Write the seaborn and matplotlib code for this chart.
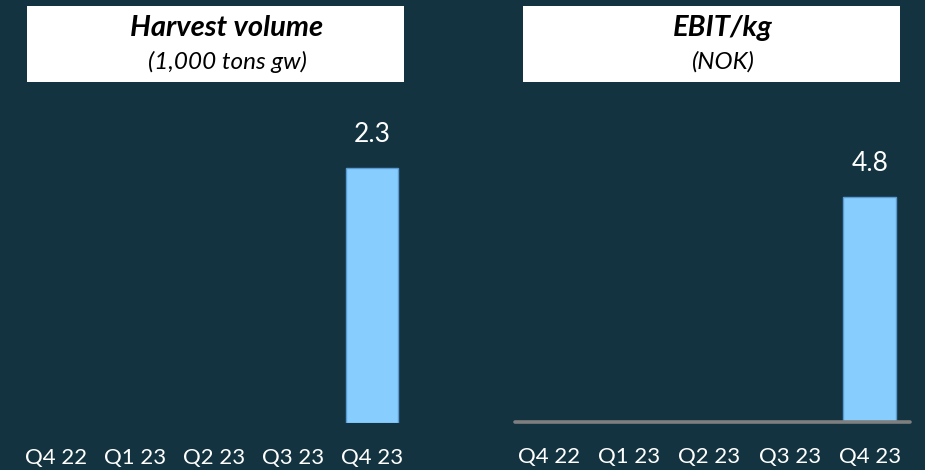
import matplotlib
matplotlib.use("Agg")
import matplotlib.pyplot as plt
import seaborn as sns
import pandas as pd
from matplotlib.patches import Rectangle

quarters = ["Q4 22", "Q1 23", "Q2 23", "Q3 23", "Q4 23"]
harvest_volume = [0, 0, 0, 0, 2.3]
ebit_per_kg = [0, 0, 0, 0, 4.8]

BG = "#12333F"
BAR = "#87CEFF"
EDGE = "#5B9BD5"

sns.set_theme(style="white")
plt.rcParams["font.family"] = ["Lato", "DejaVu Sans"]

fig = plt.figure(figsize=(9.25, 4.7), dpi=100)
fig.patch.set_facecolor(BG)

W, H = 925, 470

def make_ax(x0, x1, y0px, ytop):
    return fig.add_axes([x0 / W, (H - y0px) / H, (x1 - x0) / W, (y0px - ytop) / H])

ax1 = make_ax(16.5, 411.5, 423, 100)
ax2 = make_ax(509, 910, 422, 100)

def draw(ax, values, ymax, baseline):
    df = pd.DataFrame({"q": quarters, "v": values})
    sns.barplot(data=df, x="q", y="v", order=quarters, color=BAR, ax=ax,
                width=0.66, saturation=1, errorbar=None)
    ax.set_facecolor(BG)
    ax.set_ylim(0, ymax)
    ax.set_xlim(-0.5, 4.5)
    for s in ax.spines.values():
        s.set_visible(False)
    ax.set_yticks([])
    ax.set_xlabel("")
    ax.set_ylabel("")
    ax.tick_params(axis="x", length=0, pad=18, colors="white", labelsize=16)
    for p, v in zip(ax.patches, values):
        if v:
            p.set_edgecolor(EDGE)
            p.set_linewidth(1.0)
        else:
            p.set_linewidth(0)
    labels = [f"{v:.1f}" if v else "" for v in values]
    ax.bar_label(ax.containers[0], labels=labels, padding=15, color="white", fontsize=19)
    if baseline:
        ax.axhline(0, color="#7F7F7F", lw=2.6, xmin=0.015, xmax=1.0, zorder=5,
                   clip_on=False)

draw(ax1, harvest_volume, 2.3 * 323 / 255, False)
draw(ax2, ebit_per_kg, 4.8 * 322 / 225, True)

def title_box(x0, x1, cx, title, sub):
    fig.patches.append(Rectangle((x0 / W, 1 - 82 / H), (x1 - x0) / W, 76 / H,
                                 transform=fig.transFigure, facecolor="white",
                                 edgecolor="none", zorder=1))
    fig.text(cx / W, 1 - 28 / H, title, ha="center", va="center", fontsize=21,
             fontweight="bold", fontstyle="italic", color="black", zorder=2)
    fig.text(cx / W, 1 - 62 / H, sub, ha="center", va="center", fontsize=17.5,
             fontstyle="italic", color="black", zorder=2)

title_box(27, 404, 227, "Harvest volume", "(1,000 tons gw)")
title_box(523, 900, 723, "EBIT/kg", "(NOK)")

fig.savefig("out.png", dpi=100, facecolor=BG)
